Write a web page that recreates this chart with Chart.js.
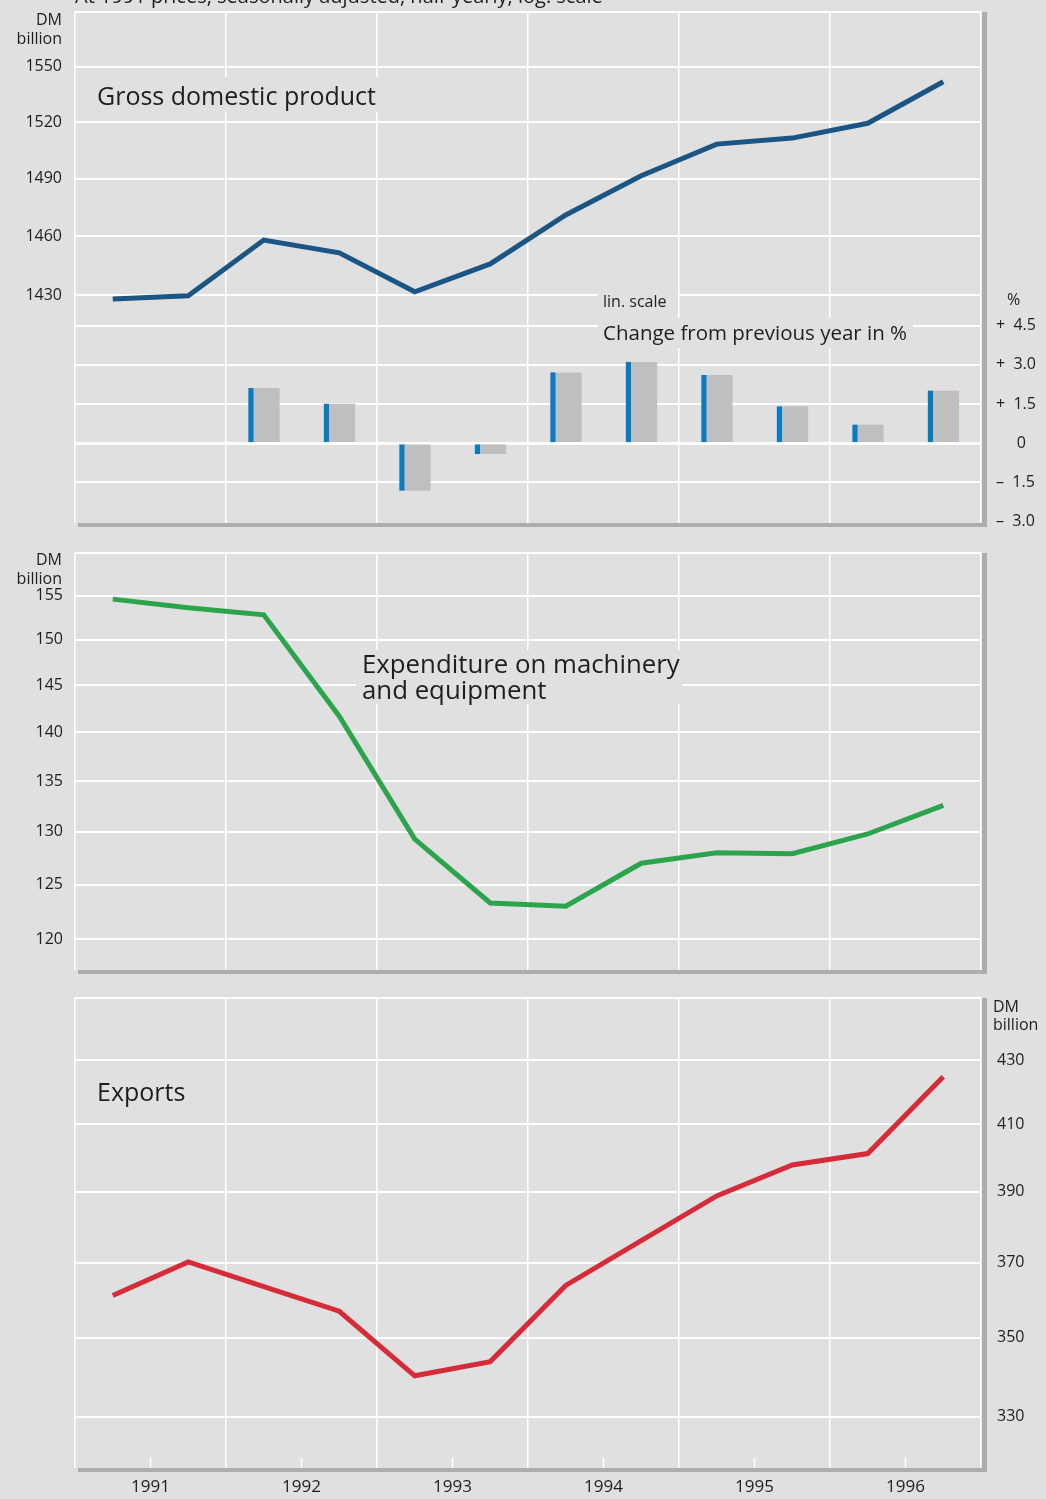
<!DOCTYPE html>
<html>
<head>
<meta charset="utf-8">
<script src="https://cdn.jsdelivr.net/npm/chart.js@4"></script>
<style>
  html, body { margin: 0; padding: 0; background: #e0e0e0; }
  body { width: 1046px; height: 1499px; position: relative; overflow: hidden; }
  canvas { position: absolute; left: 0; }
</style>
</head>
<body>
<canvas id="gdpChart" width="1046" height="540" style="top:0px"></canvas>
<canvas id="machChart" width="1046" height="450" style="top:540px"></canvas>
<canvas id="expChart" width="1046" height="509" style="top:990px"></canvas>
<script>
// half-yearly observations (middle of each half year)
const halfYears = [1991.25, 1991.75, 1992.25, 1992.75, 1993.25, 1993.75,
                   1994.25, 1994.75, 1995.25, 1995.75, 1996.25, 1996.75];
const years = [1991, 1992, 1993, 1994, 1995, 1996];
const yearLabels = ['1991', '1992', '1993', '1994', '1995', '1996'];

// DM billion, at 1991 prices
const gdp = [1428.1, 1429.8, 1458.1, 1451.6, 1431.8, 1445.9, 1471.1, 1491.6, 1508.3, 1511.5, 1519.4, 1541.8];
const gdpChange = [null, null, 2.1, 1.5, -1.8, -0.4, 2.7, 3.1, 2.6, 1.4, 0.7, 2.0];
const machinery = [154.6, 153.6, 152.8, 141.7, 129.3, 123.3, 123.0, 127.0, 128.0, 127.9, 129.8, 132.6];
const exportsDM = [361.1, 370.2, 363.5, 356.9, 340.2, 343.8, 363.8, 376.1, 388.8, 397.8, 401.2, 424.7];

// axis ticks
const gdpTicks = [1430, 1460, 1490, 1520, 1550];
const changeTicks = [-3, -1.5, 0, 1.5, 3, 4.5];
const machTicks = [120, 125, 130, 135, 140, 145, 150, 155];
const exportTicks = [330, 350, 370, 390, 410, 430];

const FONT = '"Open Sans", "Noto Sans", sans-serif';
const TEXT = '#1e1e1e';
const BLUE_SHIFT = -0.085;   // thin blue strip left of each grey bar (in years)
const GREY_SHIFT = 0.017;

Chart.defaults.font.family = FONT;
Chart.defaults.color = TEXT;
Chart.defaults.animation = false;

// x ticks: year boundaries + year middles (labels)
const xTicks = [];
years.forEach(y => { xTicks.push(y); xTicks.push(y + 0.5); });
xTicks.push(years[years.length - 1] + 1);

// no extra label padding round the plot area
function noPad(s) {
  s.paddingTop = 0; s.paddingBottom = 0; s.paddingLeft = 0; s.paddingRight = 0;
}

function xAxis(showLabels) {
  return {
    type: 'linear', min: years[0], max: years[years.length - 1] + 1,
    offset: false,
    afterBuildTicks: s => { s.ticks = xTicks.map(v => ({ value: v })); },
    afterFit: s => { s.height = showLabels ? 31 : 0; noPad(s); },
    grid: {
      offset: false, drawTicks: false, lineWidth: 1.5,
      color: c => (c.tick && c.tick.value % 1 === 0) ? '#ffffff' : 'rgba(0,0,0,0)'
    },
    border: { display: false },
    ticks: {
      display: showLabels, autoSkip: false, maxRotation: 0, padding: 9,
      font: { size: 17 }, color: TEXT,
      callback: v => (v % 1 !== 0) ? yearLabels[years.indexOf(Math.floor(v))] : ''
    }
  };
}

function logAxis(pos, min, max, ticks, width, pad) {
  return {
    type: 'logarithmic', position: pos, min: min, max: max,
    afterBuildTicks: s => { s.ticks = ticks.map(v => ({ value: v })); },
    afterFit: s => { s.width = width; noPad(s); },
    grid: { color: '#ffffff', lineWidth: 2, drawTicks: false },
    border: { display: false },
    ticks: { padding: pad, font: { size: 16 }, color: TEXT, callback: v => String(v) }
  };
}

// background boxes + text annotations
function textPlugin(items) {
  return {
    id: 'texts',
    beforeDatasetsDraw(chart) {
      const ctx = chart.ctx;
      ctx.save();
      items.forEach(t => {
        ctx.font = t.size + 'px ' + FONT;
        if (t.box) {
          ctx.fillStyle = '#e0e0e0';
          ctx.fillRect(t.box[0], t.box[1], t.box[2], t.box[3]);
        }
        ctx.fillStyle = TEXT;
        ctx.textAlign = t.align || 'left';
        ctx.textBaseline = 'alphabetic';
        ctx.fillText(t.text, t.x, t.y);
      });
      ctx.restore();
    }
  };
}

const framePlugin = {
  id: 'frame',
  beforeDatasetsDraw(chart) {
    const { ctx, chartArea: a } = chart;
    ctx.save();
    ctx.fillStyle = '#ffffff';
    ctx.fillRect(a.left, a.top - 1, a.right - a.left, 2);
    ctx.restore();
  },
  afterDraw(chart) {
    const { ctx, chartArea: a } = chart;
    ctx.save();
    ctx.fillStyle = '#adadad';
    ctx.fillRect(a.right + 1, a.top, 5, a.bottom - a.top + 4);
    ctx.fillRect(a.left + 3, a.bottom, a.right - a.left + 3, 4);
    ctx.restore();
  }
};

const halfTickPlugin = {
  id: 'halfTicks',
  afterDraw(chart) {
    const { ctx, chartArea: a } = chart;
    const xs = chart.scales.x;
    ctx.save();
    ctx.strokeStyle = '#ffffff';
    ctx.lineWidth = 1.5;
    years.forEach(y => {
      const px = xs.getPixelForValue(y + 0.5);
      ctx.beginPath();
      ctx.moveTo(px, a.bottom - 10);
      ctx.lineTo(px, a.bottom);
      ctx.stroke();
    });
    ctx.restore();
  }
};

function lineSet(values, color, axis) {
  return {
    type: 'line', yAxisID: axis,
    data: halfYears.map((x, i) => ({ x: x, y: values[i] })),
    borderColor: color, borderWidth: 5, pointRadius: 0, tension: 0,
    borderJoinStyle: 'miter', borderCapStyle: 'butt', order: 0
  };
}

function changeBars(shift, color, thickness, order) {
  const pts = [];
  halfYears.forEach((x, i) => { if (gdpChange[i] !== null) pts.push({ x: x + shift, y: gdpChange[i] }); });
  return {
    type: 'bar', yAxisID: 'yr', data: pts, backgroundColor: color,
    barThickness: thickness, grouped: false, order: order
  };
}

const baseOpts = {
  responsive: false,
  plugins: { legend: { display: false }, tooltip: { enabled: false } },
  events: []
};

// ===== Gross domestic product =====
new Chart(document.getElementById('gdpChart'), {
  type: 'line',
  data: {
    datasets: [
      lineSet(gdp, '#1b5584', 'y'),
      changeBars(BLUE_SHIFT, '#0a7bbf', 4.5, 1),
      changeBars(GREY_SHIFT, '#bfbfbf', 26, 2)
    ]
  },
  options: Object.assign({}, baseOpts, {
    layout: { padding: { top: 12, bottom: 17, left: 0, right: 0 } },
    scales: {
      x: xAxis(false),
      y: logAxis('left', 1319.7, 1580.2, gdpTicks, 75, 13),
      yr: {
        type: 'linear', position: 'right', min: -3.05, max: 16.5,
        afterBuildTicks: s => { s.ticks = changeTicks.map(v => ({ value: v })); },
        afterFit: s => { s.width = 65; noPad(s); },
        grid: {
          drawTicks: false,
          color: c => (c.tick && c.tick.value === -3) ? 'rgba(0,0,0,0)' : '#ffffff',
          lineWidth: c => (c.tick && c.tick.value === 0) ? 3 : 2
        },
        border: { display: false },
        ticks: {
          padding: 15, font: { size: 16 }, color: TEXT,
          callback: v => v === 0 ? '     0' : (v > 0 ? '+  ' : '\u2013  ') + Math.abs(v).toFixed(1)
        }
      }
    }
  }),
  plugins: [framePlugin, textPlugin([
    { text: 'At 1991 prices, seasonally adjusted, half-yearly, log. scale', x: 75, y: 3, size: 20 },
    { text: 'DM', x: 62, y: 25, size: 16, align: 'right' },
    { text: 'billion', x: 62, y: 44, size: 16, align: 'right' },
    { text: 'Gross domestic product', x: 97, y: 105, size: 25, box: [90, 77, 290, 35] },
    { text: 'lin. scale', x: 603, y: 307, size: 16, box: [598, 287, 80, 25] },
    { text: 'Change from previous year in %', x: 603, y: 340, size: 20.5, box: [598, 318, 315, 30] },
    { text: '%', x: 1007, y: 305, size: 16 }
  ])]
});

// ===== Expenditure on machinery and equipment =====
new Chart(document.getElementById('machChart'), {
  type: 'line',
  data: { datasets: [lineSet(machinery, '#2ca44c', 'y')] },
  options: Object.assign({}, baseOpts, {
    layout: { padding: { top: 13, bottom: 20, left: 0, right: 65 } },
    scales: {
      x: xAxis(false),
      y: logAxis('left', 117.3, 160.0, machTicks, 75, 12)
    }
  }),
  plugins: [framePlugin, textPlugin([
    { text: 'DM', x: 62, y: 25, size: 16, align: 'right' },
    { text: 'billion', x: 62, y: 44, size: 16, align: 'right' },
    { text: 'Expenditure on machinery', x: 362, y: 133, size: 25.8, box: [356, 110, 326, 54] },
    { text: 'and equipment', x: 362, y: 159, size: 25.8 }
  ])]
});

// ===== Exports =====
new Chart(document.getElementById('expChart'), {
  type: 'line',
  data: { datasets: [lineSet(exportsDM, '#d62b38', 'y')] },
  options: Object.assign({}, baseOpts, {
    layout: { padding: { top: 8, bottom: 0, left: 75, right: 0 } },
    scales: {
      x: xAxis(true),
      y: logAxis('right', 317.7, 450.3, exportTicks, 65, 16)
    }
  }),
  plugins: [framePlugin, halfTickPlugin, textPlugin([
    { text: 'DM', x: 993, y: 22, size: 16 },
    { text: 'billion', x: 993, y: 40, size: 16 },
    { text: 'Exports', x: 97, y: 111, size: 25, box: [92, 86, 100, 32] }
  ])]
});
</script>
</body>
</html>
